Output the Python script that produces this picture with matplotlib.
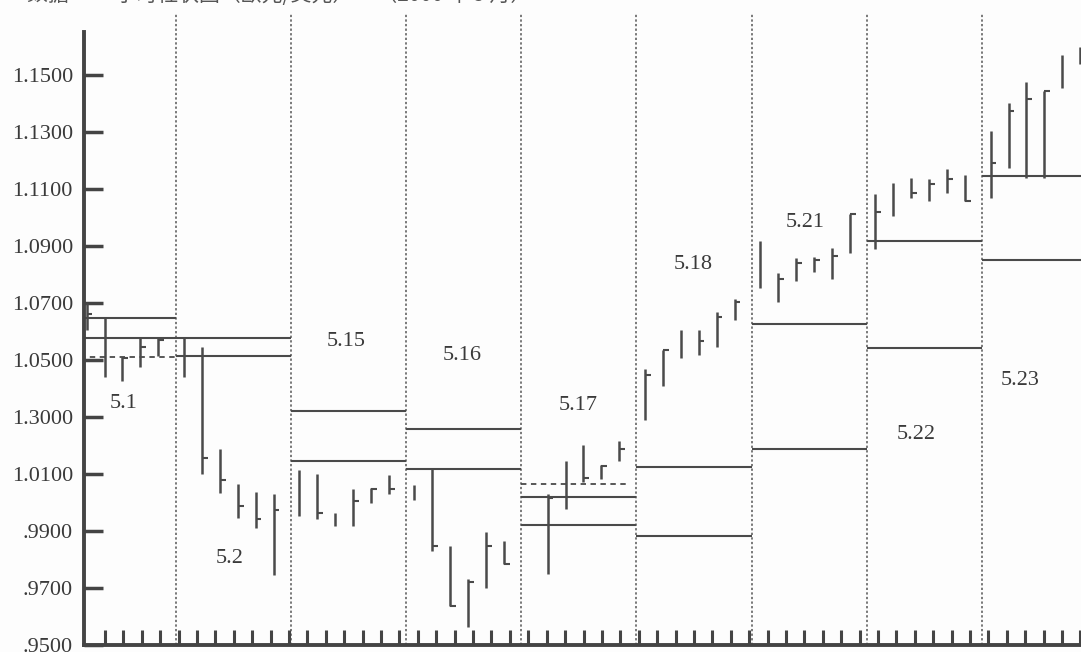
import matplotlib
matplotlib.use("Agg")
import matplotlib.pyplot as plt
import numpy as np

# trading days shown (one column each), hourly bars per day: high / low / close
days = ['5.1', '5.2', '5.15', '5.16', '5.17', '5.18', '5.21', '5.22', '5.23']

bar_high = [
    [None, 1.0700, 1.0651, 1.0509, 1.0579, 1.0581],
    [1.0579, 1.0546, 1.0188, 1.0064, 1.0037, 1.0029],
    [1.0114, 1.0099, 0.9965, 1.0049, 1.0052, 1.0095],
    [1.0060, 1.0116, 0.9848, 0.9732, 0.9898, 0.9866],
    [None, 1.0029, 1.0145, 1.0203, 1.0133, 1.0215],
    [1.0468, 1.0537, 1.0605, 1.0605, 1.0669, 1.0715],
    [1.0919, 1.0805, 1.0858, 1.0863, 1.0895, 1.1014],
    [1.1082, 1.1123, 1.1140, 1.1134, 1.1169, 1.1151],
    [1.1303, 1.1402, 1.1477, 1.1445, 1.1570, 1.1599],
]
bar_low = [
    [None, 1.0605, 1.0442, 1.0427, 1.0475, 1.0514],
    [1.0442, 1.0099, 1.0035, 0.9947, 0.9912, 0.9746],
    [0.9953, 0.9942, 0.9918, 0.9918, 0.9997, 1.0029],
    [1.0009, 0.9831, 0.9636, 0.9563, 0.9700, 0.9784],
    [None, 0.9750, 0.9976, 1.0072, 1.0081, 1.0145],
    [1.0291, 1.0409, 1.0508, 1.0517, 1.0546, 1.0640],
    [1.0752, 1.0704, 1.0777, 1.0808, 1.0785, 1.0874],
    [1.0890, 1.1006, 1.1068, 1.1058, 1.1088, 1.1058],
    [1.1070, 1.1175, 1.1140, 1.1140, 1.1456, 1.1540],
]
bar_close = [
    [None, 1.0663, None, 1.0506, 1.0546, 1.0570],
    [None, 1.0157, 1.0079, 0.9989, 0.9942, 0.9973],
    [None, 0.9965, None, 1.0005, 1.0049, 1.0049],
    [None, 0.9848, 0.9636, 0.9720, 0.9848, 0.9784],
    [None, 1.0017, None, 1.0087, 1.0128, 1.0188],
    [1.0448, 1.0535, None, 1.0567, 1.0651, 1.0704],
    [None, 1.0785, 1.0840, 1.0851, 1.0866, 1.1013],
    [1.1021, None, 1.1088, 1.1119, 1.1134, 1.1058],
    [1.1193, 1.1375, 1.1415, 1.1445, None, 1.1582],
]

# horizontal levels drawn across each day
level_upper = [1.0646, 1.0579, 1.0320, 1.0258, 1.0019, 1.0125, 1.0625, 1.0919, 1.1146]
level_lower = [1.0579, 1.0514, 1.0147, 1.0118, 0.9922, 0.9883, 1.0188, 1.0543, 1.0851]
level_dotted = [1.0512, None, None, None, 1.0064, None, None, None, None]

# where the day names sit (x in day units, y in price)
label_x = [0.553, 1.473, 2.48, 3.49, 4.49, 5.49, 6.46, 7.43, 8.33]
label_y = [1.0346, 0.9802, 1.0566, 1.0517, 1.0339, 1.0835, 1.0982, 1.0238, 1.0427]

ytick_vals = [0.95, 0.97, 0.99, 1.01, 1.03, 1.05, 1.07, 1.09, 1.11, 1.13, 1.15]
ytick_text = ['.9500', '.9700', '.9900', '1.0100', '1.3000', '1.0500',
              '1.0700', '1.0900', '1.1100', '1.1300', '1.1500']

ink = '#4a4a4a'
txt = '#3a3a3a'
serif = 'Liberation Serif'

fig = plt.figure(figsize=(10.81, 6.52), dpi=100)
fig.patch.set_facecolor('#fdfdfd')
ax = fig.add_axes([84 / 1081, 7 / 652, 1 - 84 / 1081, 632 / 652])
ax.set_facecolor('#fdfdfd')

x_left, x_right = 0.206, 8.857
ax.set_xlim(x_left, x_right)
ax.set_ylim(0.95, 1.1718)

# day separators
for d in range(1, len(days)):
    ax.axvline(d, color='#555555', lw=1.1, ls=(0, (1.5, 1.5)), zorder=1)

# levels
for d in range(len(days)):
    ax.hlines(level_upper[d], d, d + 1, color=ink, lw=1.5, zorder=2)
    ax.hlines(level_lower[d], d, d + 1, color=ink, lw=1.5, zorder=2)
    if level_dotted[d] is not None:
        end = d + 1 if d == 0 else d + 0.91
        ax.hlines(level_dotted[d], d, end, color=ink, lw=1.3,
                  linestyles=(0, (3, 2.5)), zorder=2)

# hourly bars
for d in range(len(days)):
    for k in range(6):
        hi = bar_high[d][k]
        if hi is None:
            continue
        x = d + 0.072 + 0.156 * k
        ax.vlines(x, bar_low[d][k], hi, color=ink, lw=1.8, zorder=3,
                  clip_on=False)
        c = bar_close[d][k]
        if c is not None:
            ax.hlines(c, x, x + 0.05, color=ink, lw=1.5, zorder=3,
                      clip_on=False)

for d, name in enumerate(days):
    ax.text(label_x[d], label_y[d], name, ha='center', va='center',
            fontsize=16, family=serif, color=txt)

# axes
for s in ['top', 'right']:
    ax.spines[s].set_visible(False)
ax.spines['left'].set_bounds(0.95, 1.1651)
ax.spines['left'].set_linewidth(2.8)
ax.spines['left'].set_color('#444444')
ax.spines['bottom'].set_linewidth(2.8)
ax.spines['bottom'].set_color('#444444')

ax.set_yticks(ytick_vals)
ax.set_yticklabels(ytick_text, family=serif, fontsize=16, color=txt)
ax.tick_params(axis='y', direction='in', length=14, width=2.5,
               color='#444444', pad=8)

ax.set_xticks(np.arange(0.388, x_right, 0.1597))
ax.set_xticklabels([])
ax.tick_params(axis='x', direction='in', length=11, width=2.2, color='#444444')

# cut-off caption at the very top of the scan
fig.text(0.025, 1.008, '数据 —— 小时柱状图（欧元/美元）     （2000 年 5 月）',
         ha='left', va='center', fontsize=15, color='#555555',
         family=['Noto Sans CJK SC', 'DejaVu Sans'])

fig.savefig('out.png', dpi=100, facecolor=fig.get_facecolor())
